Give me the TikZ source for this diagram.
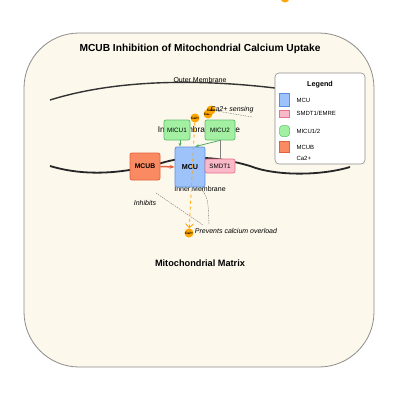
\documentclass[tikz,border=0pt]{standalone}
\usepackage{fontspec}
\setmainfont{Liberation Sans}
\usetikzlibrary{arrows.meta}

\definecolor{cellbg}{HTML}{FDF8EC}
\definecolor{cellline}{HTML}{8C8C8C}
\definecolor{mcufill}{HTML}{9DC3FA}
\definecolor{mculine}{HTML}{5C8FE0}
\definecolor{mcubfill}{HTML}{FA8A62}
\definecolor{mcubline}{HTML}{E2603C}
\definecolor{smdtfill}{HTML}{F9B9C9}
\definecolor{smdtline}{HTML}{E6708E}
\definecolor{micufill}{HTML}{A3F0A3}
\definecolor{miculine}{HTML}{5CBE6C}
\definecolor{caorange}{HTML}{FFA500}

\begin{document}
\begin{tikzpicture}[x=1pt,y=-1pt]
    \tikzset{protein/.style={draw, rounded corners=2pt, line width=0.7pt, inner sep=0pt, font=\fontsize{6.3}{7}\selectfont}}
    \tikzset{ion/.style={circle, fill=caorange, inner sep=0pt, minimum size=9pt, font=\fontsize{3.3}{4}\bfseries\selectfont}}
    \tikzset{note/.style={font=\fontsize{7}{8}\itshape\selectfont}}
    \tikzset{leader/.style={gray!80!black, line width=0.35pt, dash pattern=on 1.5pt off 1pt}}
    \tikzset{keybox/.style={minimum width=10pt, minimum height=11pt, inner sep=0pt, line width=0.5pt}}
    \tikzset{keytext/.style={anchor=west, font=\fontsize{6}{7}\selectfont}}
    \useasboundingbox (0,0) rectangle (400,400);
    \fill[white] (0,0) rectangle (400,400);
    % mitochondrion
    \draw[cellline, fill=cellbg, line width=0.8pt, rounded corners=55pt] (24,33) rectangle (374,367);
    \node[font=\fontsize{10.2}{11}\bfseries\selectfont] (title) at (200,49) {MCUB Inhibition of Mitochondrial Calcium Uptake};
    \node[ion] (caTop) at (285,-2) {};
    % membranes
    \draw[black!80, line width=1.4pt] (50,100) .. controls (130,75) and (240,78) .. (350,100);
    \node[font=\fontsize{7}{8}\selectfont] (outer) at (200,80) {Outer Membrane};
    \node[font=\fontsize{8.3}{9}\selectfont] (ims) at (199,130) {Intermembrane Space};
    \draw[black!85, line width=1.8pt] (50,166) .. controls (90,178) and (130,172) .. (165,162)
        .. controls (190,155) and (220,157) .. (250,166) .. controls (275,176) and (320,176) .. (350,167);
    \node[font=\fontsize{7}{8}\selectfont] (inner) at (200,189) {Inner Membrane};
    \node[font=\fontsize{9.2}{10}\bfseries\selectfont] (matrix) at (200,263) {Mitochondrial Matrix};
    % proteins
    \node[protein, fill=mcufill, draw=mculine, minimum width=30pt, minimum height=40pt, font=\fontsize{7.2}{8}\bfseries\selectfont] (mcu) at (190,167) {MCU};
    \node[protein, fill=mcubfill, draw=mcubline, minimum width=30pt, minimum height=27pt, font=\fontsize{6.8}{8}\bfseries\selectfont] (mcub) at (145,166.5) {MCUB};
    \node[protein, fill=smdtfill, draw=smdtline, minimum width=30pt, minimum height=14pt] (smdt1) at (220,166) {SMDT1};
    \node[protein, fill=micufill, draw=miculine, minimum width=26pt, minimum height=20pt] (micu1) at (177,130) {MICU1};
    \node[protein, fill=micufill, draw=miculine, minimum width=30pt, minimum height=20pt] (micu2) at (220,130) {MICU2};
    \draw[miculine!90!black, line width=0.8pt, -{Stealth[length=4pt]}] ([xshift=3pt]micu1.south) -- ([xshift=3pt]micu1.south |- mcu.north);
    \draw[miculine!90!black, line width=0.8pt, -{Stealth[length=4pt]}] (micu2.south) -- ([xshift=5pt]mcu.north);
    \draw[gray, line width=1pt] (micu2.south) -- (smdt1.north);
    \draw[mcubline, line width=1.5pt, -{Stealth[length=5pt]}] (mcub.east) -- (mcu.west);
    % calcium
    \node[ion] (caA) at (195,118) {Ca2+};
    \node[ion] (caB) at (208,114) {Ca2+};
    \node[ion] (caC) at (211,110) {Ca2+};
    \node[ion] (caIn) at (189,233) {Ca2+};
    \coordinate (senseEnd) at (252,117);
    \draw[leader] (caC) -- (senseEnd);
    \node[note] (sensing) at (232,110) {Ca2+ sensing};
    \draw[caorange, line width=0.8pt, dashed, -{Straight Barb[length=4pt]}] (caA) -- (caIn);
    \node[note] (inhibits) at (145,203) {Inhibits};
    \node[note] (overload) at (236,231) {Prevents calcium overload};
    \coordinate (inhStart) at (156,193);
    \coordinate (inhEnd) at (203,225);
    \draw[leader] (inhStart) -- (inhEnd);
    \coordinate (ovStart) at (200,187);
    \coordinate (ovEnd) at (209,225);
    \draw[leader] (ovStart) .. controls (208,198) .. (ovEnd);
    % legend
    \draw[cellline, fill=white, line width=0.6pt, rounded corners=4pt] (275,73) rectangle (365,164);
    \node[font=\fontsize{7.2}{8}\bfseries\selectfont] (legend) at (320,85) {Legend};
    \node[keybox, fill=mcufill, draw=mculine, minimum height=13pt] (kMcu) at (284.5,100) {};
    \node[keytext] at (293,100) {MCU};
    \node[keybox, fill=smdtfill, draw=smdtline, minimum height=7pt] (kSmdt) at (284.5,113.5) {};
    \node[keytext] at (293,113.5) {SMDT1/EMRE};
    \node[keybox, fill=micufill, draw=miculine, rounded corners=3pt] (kMicu) at (284.5,131) {};
    \node[keytext] at (293,131) {MICU1/2};
    \node[keybox, fill=mcubfill, draw=mcubline] (kMcub) at (284.5,147) {};
    \node[keytext] at (293,147) {MCUB};
    \node[keytext] at (293,158) {Ca2+};
\end{tikzpicture}
\end{document}
